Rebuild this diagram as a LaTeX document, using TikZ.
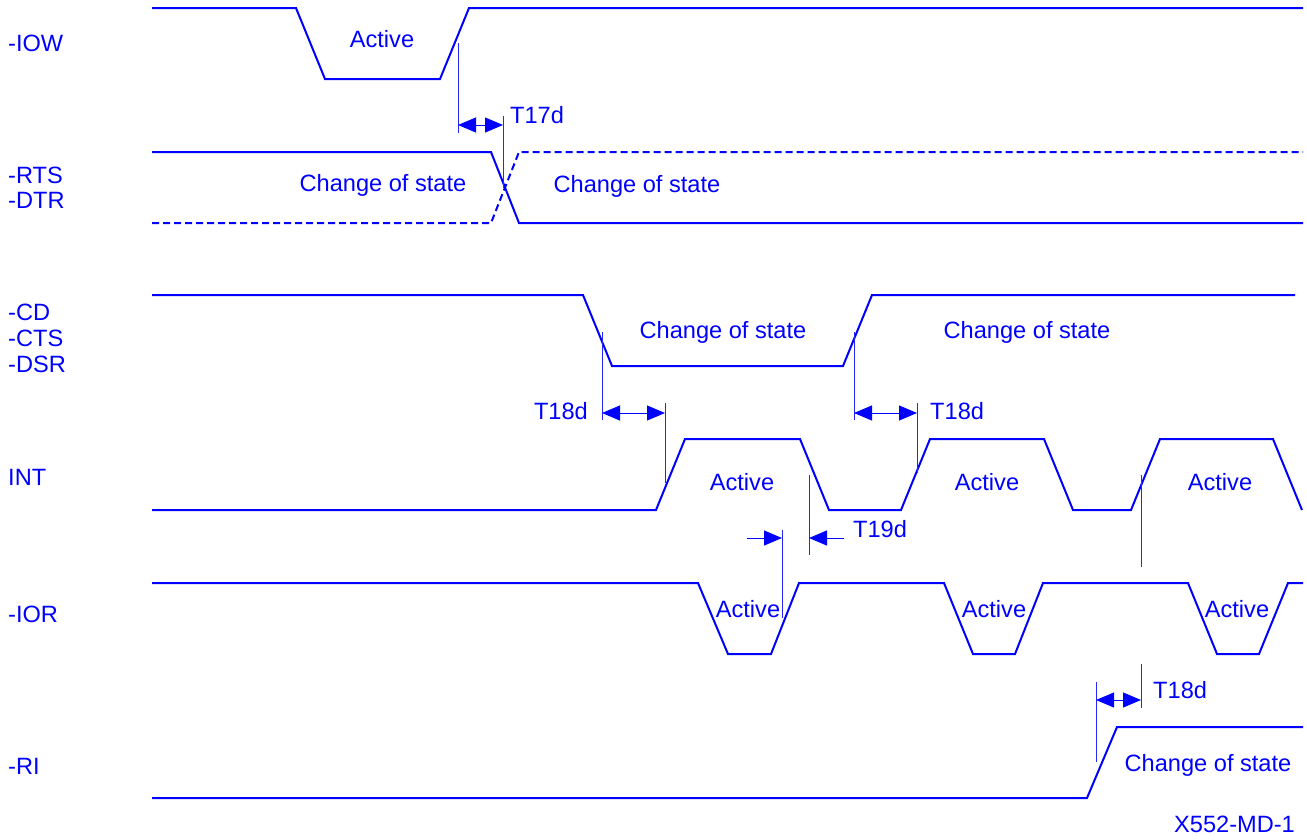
\documentclass[tikz,border=0pt]{standalone}
\usepackage{fontspec}
\setmainfont{Liberation Sans}
\usepackage{tikz}
\usetikzlibrary{arrows.meta,positioning}
\newcommand\wavefont{\fontsize{23.6}{28}\selectfont}
\tikzset{
    %Define standard arrow tip
    >={Triangle[length=18pt,width=15pt]},
    %Define style for waveforms
    wave/.style={
           draw=blue,
           line width=2pt,
           line join=miter},
    wavedash/.style={
           wave,
           dash pattern=on 7pt off 4pt},
    %Define style for timing guides
    guide/.style={
           draw=blue!85,
           line width=1pt},
    dim/.style={
           draw=blue,
           line width=1pt},
    %Define style for texts
    sig/.style={
           anchor=base west,
           inner sep=0pt,
           text=blue,
           font=\wavefont},
    lbl/.style={
           anchor=base,
           inner sep=0pt,
           text=blue,
           font=\wavefont}
}
\begin{document}
\begin{tikzpicture}[x=1pt,y=-1pt,node distance=9pt]
\useasboundingbox (0,0) rectangle (1307,839);
% signal names
\node[sig](iow) at (8,51){-IOW};
\node[sig](rts) at (8,183){-RTS};
\node[sig, below=of rts.south west, anchor=north west](dtr){-DTR};
\node[sig](cd) at (8,320){-CD};
\node[sig, below=of cd.south west, anchor=north west](cts){-CTS};
\node[sig, below=of cts.south west, anchor=north west](dsr){-DSR};
\node[sig](int) at (8,485){INT};
\node[sig](ior) at (8,622){-IOR};
\node[sig](ri) at (8,774){-RI};
% waveforms
\draw[wave] (152,8) -- (296,8) -- (325,79) -- (440,79) -- (469,8) -- (1303,8);
\draw[wave] (152,152) -- (491,152) -- (519,223) -- (1303,223);
\draw[wavedash] (152,223) -- (491,223) -- (519,152) -- (1303,152);
\draw[wave] (152,295) -- (583,295) -- (612,366) -- (843,366) -- (872,295) -- (1295,295);
\draw[wave] (152,510) -- (656,510) -- (685,439) -- (800,439) -- (829,510) -- (901,510)
    -- (930,439) -- (1044,439) -- (1073,510) -- (1131,510) -- (1160,439) -- (1273,439) -- (1302,510);
\draw[wave] (152,583) -- (698,583) -- (728,654) -- (771,654) -- (799,583) -- (944,583)
    -- (973,654) -- (1015,654) -- (1043,583) -- (1188,583) -- (1217,654) -- (1259,654)
    -- (1288,583) -- (1303,583);
\draw[wave] (152,798) -- (1087,798) -- (1117,727) -- (1303,727);
% texts on the waveforms
\node[lbl](iowact) at (382,47){Active};
\node[lbl](rtsold) at (383,191){Change of state};
\node[lbl](rtsnew) at (637,192){Change of state};
\node[lbl](cdlow) at (723,338){Change of state};
\node[lbl](cdhigh) at (1027,338){Change of state};
\foreach \x/\n in {742/1,987/2,1220/3}
    \node[lbl](intact\n) at (\x,490){Active};
\foreach \x/\n in {748/1,994/2,1237/3}
    \node[lbl](ioract\n) at (\x,617){Active};
\node[lbl](richg) at (1208,771){Change of state};
% T17d
\coordinate (t17a) at (458,125);
\coordinate (t17b) at (503,125);
\draw[guide] (458,43) -- (458,133);
\draw[guide] (503,116) -- (503,188);
\draw[dim,<->] (t17a) -- (t17b);
\node[sig](t17) at (510,123){T17d};
% T18d, -CD to INT
\coordinate (t18a) at (602,413);
\coordinate (t18b) at (665,413);
\draw[guide] (602,332) -- (602,420);
\draw[guide] (665,403) -- (665,483);
\draw[dim,<->] (t18a) -- (t18b);
\node[sig, anchor=base east](t18l) at (588,419){T18d};
\coordinate (t18c) at (854,413);
\coordinate (t18d) at (917,413);
\draw[guide] (854,332) -- (854,420);
\draw[guide] (917,403) -- (917,473);
\draw[dim,<->] (t18c) -- (t18d);
\node[sig](t18r) at (930,419){T18d};
% T19d
\coordinate (t19a) at (747,538);
\coordinate (t19b) at (782,538);
\coordinate (t19c) at (844,538);
\coordinate (t19d) at (809,538);
\draw[guide] (782,530) -- (782,618);
\draw[guide] (809,475) -- (809,555);
\draw[dim,->] (t19a) -- (t19b);
\draw[dim,->] (t19c) -- (t19d);
\node[sig](t19) at (853,537){T19d};
% T18d, -RI
\coordinate (t18e) at (1096,700);
\coordinate (t18f) at (1141,700);
\draw[guide] (1141,475) -- (1141,567);
\draw[guide] (1141,664) -- (1141,708);
\draw[guide] (1096,682) -- (1096,762);
\draw[dim,<->] (t18e) -- (t18f);
\node[sig](t18b) at (1153,698){T18d};
\node[sig, anchor=base east](fig) at (1295,832){X552-MD-1};
\end{tikzpicture}
\end{document}
